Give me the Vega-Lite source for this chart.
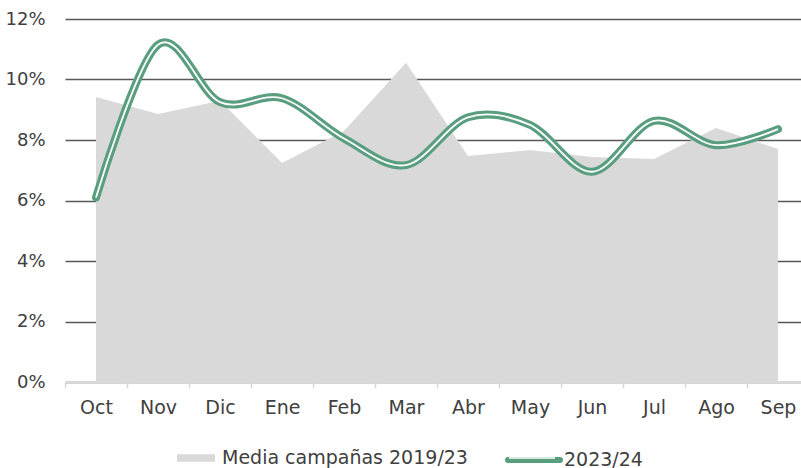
{
  "$schema": "https://vega.github.io/schema/vega-lite/v6.json",
  "width": 744,
  "height": 363,
  "autosize": {"type": "none"},
  "padding": {"left": 65, "top": 19, "right": 0, "bottom": 86},
  "background": "white",
  "config": {
    "view": {"stroke": null},
    "font": "DejaVu Sans"
  },
  "data": {
    "values": [
      {"mes": "Oct", "media": 0.0942, "v": 0.0610},
      {"mes": "Nov", "media": 0.0886, "v": 0.1115},
      {"mes": "Dic", "media": 0.0930, "v": 0.0925},
      {"mes": "Ene", "media": 0.0724, "v": 0.0938},
      {"mes": "Feb", "media": 0.0830, "v": 0.0805},
      {"mes": "Mar", "media": 0.1055, "v": 0.0717},
      {"mes": "Abr", "media": 0.0747, "v": 0.0875},
      {"mes": "May", "media": 0.0767, "v": 0.0850},
      {"mes": "Jun", "media": 0.0744, "v": 0.0695},
      {"mes": "Jul", "media": 0.0737, "v": 0.0863},
      {"mes": "Ago", "media": 0.0840, "v": 0.0783},
      {"mes": "Sep", "media": 0.0770, "v": 0.0836}
    ]
  },
  "encoding": {
    "x": {
      "field": "mes",
      "type": "nominal",
      "sort": null,
      "bandPosition": 0.5,
      "scale": {"type": "band", "paddingInner": 0, "paddingOuter": 0},
      "axis": {
        "title": null,
        "labelAngle": 0,
        "labelFontSize": 19,
        "labelColor": "#404040",
        "labelPadding": 10,
        "domainColor": "#d9d9d9",
        "domainWidth": 1.5,
        "tickColor": "#d9d9d9",
        "tickWidth": 1.5,
        "tickSize": 6,
        "tickBand": "extent",
        "grid": false,
        "zindex": 1
      }
    }
  },
  "resolve": {"scale": {"stroke": "independent"}, "legend": {"stroke": "independent"}},
  "layer": [
    {
      "mark": {"type": "area", "color": "#d9d9d9"},
      "encoding": {
        "y": {
          "field": "media",
          "type": "quantitative",
          "scale": {"domain": [0, 0.12]},
          "axis": {
            "title": null,
            "values": [0, 0.02, 0.04, 0.06, 0.08, 0.1, 0.12],
            "format": ".0%",
            "labelFontSize": 18,
            "labelColor": "#404040",
            "labelPadding": 20,
            "ticks": false,
            "domain": false,
            "gridColor": "#595959",
            "gridWidth": 1.5
          }
        },
        "fill": {
          "datum": "Media campañas 2019/23",
          "scale": {"range": ["#d9d9d9"]},
          "legend": {
            "orient": "none",
            "legendX": 112,
            "legendY": 420,
            "title": null,
            "symbolType": "M-1,-0.2H1V0.2H-1Z",
            "symbolSize": 1444,
            "symbolStrokeWidth": 0,
            "labelFontSize": 19,
            "labelLimit": 0,
            "labelColor": "#404040",
            "labelOffset": 7
          }
        }
      }
    },
    {
      "mark": {"type": "line", "interpolate": "cardinal", "strokeWidth": 8, "strokeCap": "round", "strokeJoin": "round"},
      "encoding": {
        "y": {"field": "v", "type": "quantitative"},
        "stroke": {
          "datum": "2023/24",
          "scale": {"range": ["#5a9e80"]},
          "legend": {
            "orient": "none",
            "legendX": 440,
            "legendY": 412,
            "title": null,
            "symbolType": "stroke",
            "symbolSize": 2704,
            "symbolStrokeWidth": 6,
            "labelFontSize": 19,
            "labelLimit": 0,
            "labelColor": "#404040",
            "labelOffset": 1,
            "zindex": 0,
            "encode": {"symbols": {"update": {"strokeCap": {"value": "round"}}}}
          }
        }
      }
    },
    {
      "mark": {"type": "line", "interpolate": "cardinal", "strokeWidth": 1.8},
      "encoding": {
        "y": {"field": "v", "type": "quantitative"},
        "stroke": {
          "datum": "blanco",
          "scale": {"range": ["#ffffff"]},
          "legend": {
            "orient": "none",
            "legendX": 443,
            "legendY": 415,
            "title": null,
            "symbolType": "stroke",
            "symbolSize": 2116,
            "symbolStrokeWidth": 1.6,
            "labelExpr": "''",
            "zindex": 1
          }
        }
      }
    }
  ]
}
